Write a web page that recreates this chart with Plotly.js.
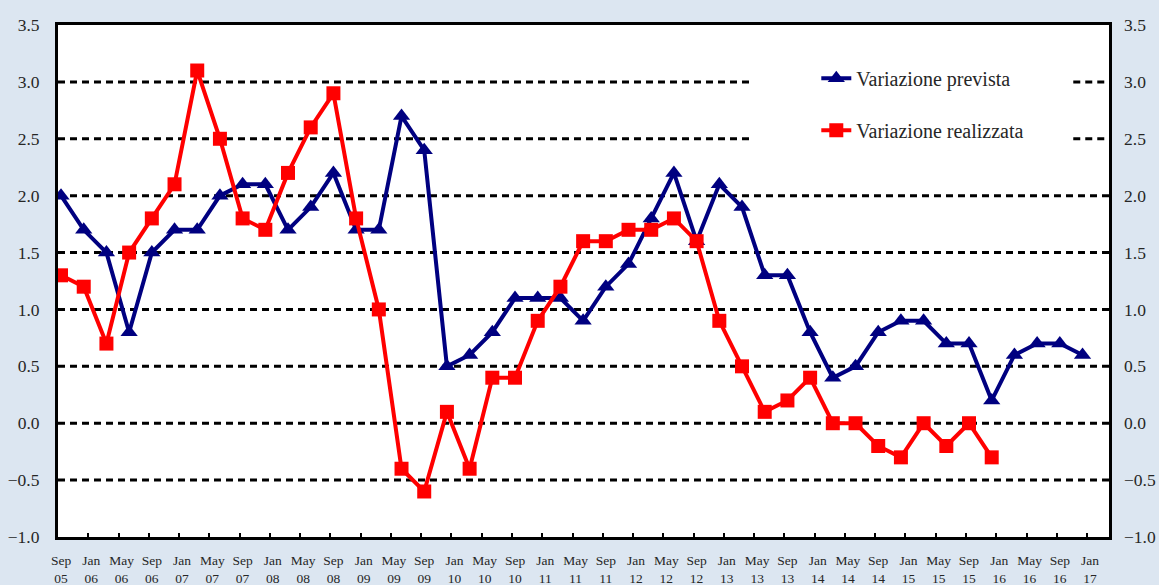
<!DOCTYPE html>
<html>
<head>
<meta charset="utf-8">
<script src="https://cdn.plot.ly/plotly-3.0.1.min.js"></script>
<style>
  html, body { margin: 0; padding: 0; background: #DCE6F1; }
  #chart { width: 1159px; height: 585px; }
</style>
</head>
<body>
<div id="chart"></div>
<script>
// Tick labels (every 4 months, Sep 2005 – Jan 2017)
const tickMonths = ["Sep","Jan","May","Sep","Jan","May","Sep","Jan","May","Sep","Jan","May",
  "Sep","Jan","May","Sep","Jan","May","Sep","Jan","May","Sep","Jan","May",
  "Sep","Jan","May","Sep","Jan","May","Sep","Jan","May","Sep","Jan"];
const tickYears = ["05","06","06","06","07","07","07","08","08","08","09","09",
  "09","10","10","10","11","11","11","12","12","12","13","13",
  "13","14","14","14","15","15","15","16","16","16","17"];
const yTicks = [-1.0,-0.5,0,0.5,1.0,1.5,2.0,2.5,3.0,3.5];

// Quarterly observations
const variazionePrevista = [2.0,1.7,1.5,0.8,1.5,1.7,1.7,2.0,2.1,2.1,1.7,1.9,2.2,1.7,1.7,2.7,2.4,
  0.5,0.6,0.8,1.1,1.1,1.1,0.9,1.2,1.4,1.8,2.2,1.6,2.1,1.9,1.3,1.3,0.8,0.4,0.5,0.8,0.9,0.9,
  0.7,0.7,0.2,0.6,0.7,0.7,0.6];
const variazioneRealizzata = [1.3,1.2,0.7,1.5,1.8,2.1,3.1,2.5,1.8,1.7,2.2,2.6,2.9,1.8,1.0,-0.4,-0.6,
  0.1,-0.4,0.4,0.4,0.9,1.2,1.6,1.6,1.7,1.7,1.8,1.6,0.9,0.5,0.1,0.2,0.4,0.0,0.0,-0.2,-0.3,0.0,
  -0.2,0.0,-0.3];

const seriesNames = ["Variazione prevista", "Variazione realizzata"];

// x positions: months elapsed since Sep 2005 (quarterly steps of 3 months)
const xPrev = variazionePrevista.map((_, i) => i * 3);
const xReal = variazioneRealizzata.map((_, i) => i * 3);
const tickVals = tickMonths.map((_, k) => k * 4 - 0.4);
const tickText = tickMonths.map((m, k) => m + "<br>" + tickYears[k]);

const fontFam = "'Liberation Serif', 'DejaVu Serif', serif";
const textCol = "#262626";

const traces = [
  {
    x: xPrev, y: variazionePrevista, name: seriesNames[0], type: "scatter", mode: "lines+markers",
    line: { color: "#000080", width: 4 },
    marker: { symbol: "triangle-up", size: 15, color: "#000080" },
    legendgroup: "a"
  },
  {
    x: xReal, y: variazioneRealizzata, name: seriesNames[1], type: "scatter", mode: "lines+markers",
    line: { color: "#FF0000", width: 4 },
    marker: { symbol: "square", size: 14, color: "#FF0000" },
    legendgroup: "b"
  },
  {
    x: xPrev, y: variazionePrevista, yaxis: "y2", showlegend: false, hoverinfo: "skip",
    type: "scatter", mode: "lines", line: { width: 0, color: "rgba(0,0,0,0)" }, opacity: 0
  }
];

// Dashed gridlines (interrupted behind the legend area for the top rows)
const gridLine = { color: "#000", width: 3, dash: "7px,5px" };
const shapes = [];
yTicks.filter(v => v > -1.0 && v < 3.5).forEach(v => {
  if (v >= 2.5) {
    shapes.push({ type: "line", xref: "paper", yref: "y", x0: 0, x1: 0.658, y0: v, y1: v, line: gridLine, layer: "below" });
    shapes.push({ type: "line", xref: "paper", yref: "y", x0: 0.966, x1: 1, y0: v, y1: v, line: gridLine, layer: "below" });
  } else {
    shapes.push({ type: "line", xref: "paper", yref: "y", x0: 0, x1: 1, y0: v, y1: v, line: gridLine, layer: "below" });
  }
});

const yCommon = {
  range: [-1.0, 3.5],
  tickmode: "array",
  tickvals: yTicks,
  tickformat: ".1f",
  tickfont: { family: fontFam, size: 17.5, color: textCol },
  zeroline: false,
  showgrid: false,
  ticks: ""
};

const layout = {
  width: 1159, height: 585,
  paper_bgcolor: "#DCE6F1",
  plot_bgcolor: "#FFFFFF",
  margin: { l: 58, r: 50, t: 25, b: 48 },
  font: { family: fontFam, color: textCol },
  showlegend: true,
  legend: {
    x: 0.7215, y: 0.934, xanchor: "left", yanchor: "top",
    bgcolor: "rgba(255,255,255,0)",
    font: { family: fontFam, size: 20, color: textCol },
    tracegroupgap: 23,
    traceorder: "grouped"
  },
  xaxis: {
    range: [-0.4, 138.5],
    tickmode: "array", tickvals: tickVals, ticktext: tickText,
    tickfont: { family: fontFam, size: 13.5, color: textCol },
    ticklabelshift: 3,
    ticklabelstandoff: 9,
    ticks: "inside", ticklen: 4, tickwidth: 2, tickcolor: "#000",
    showgrid: false, zeroline: false,
    showline: true, linecolor: "#000", linewidth: 3, mirror: true
  },
  yaxis: Object.assign({}, yCommon, {
    showline: true, linecolor: "#000", linewidth: 3, mirror: true,
    ticklabelstandoff: 12
  }),
  yaxis2: Object.assign({}, yCommon, {
    overlaying: "y", side: "right", showline: false,
    ticklabelstandoff: 14
  }),
  shapes: shapes
};

Plotly.newPlot("chart", traces, layout, { displayModeBar: false, staticPlot: true });
</script>
</body>
</html>
